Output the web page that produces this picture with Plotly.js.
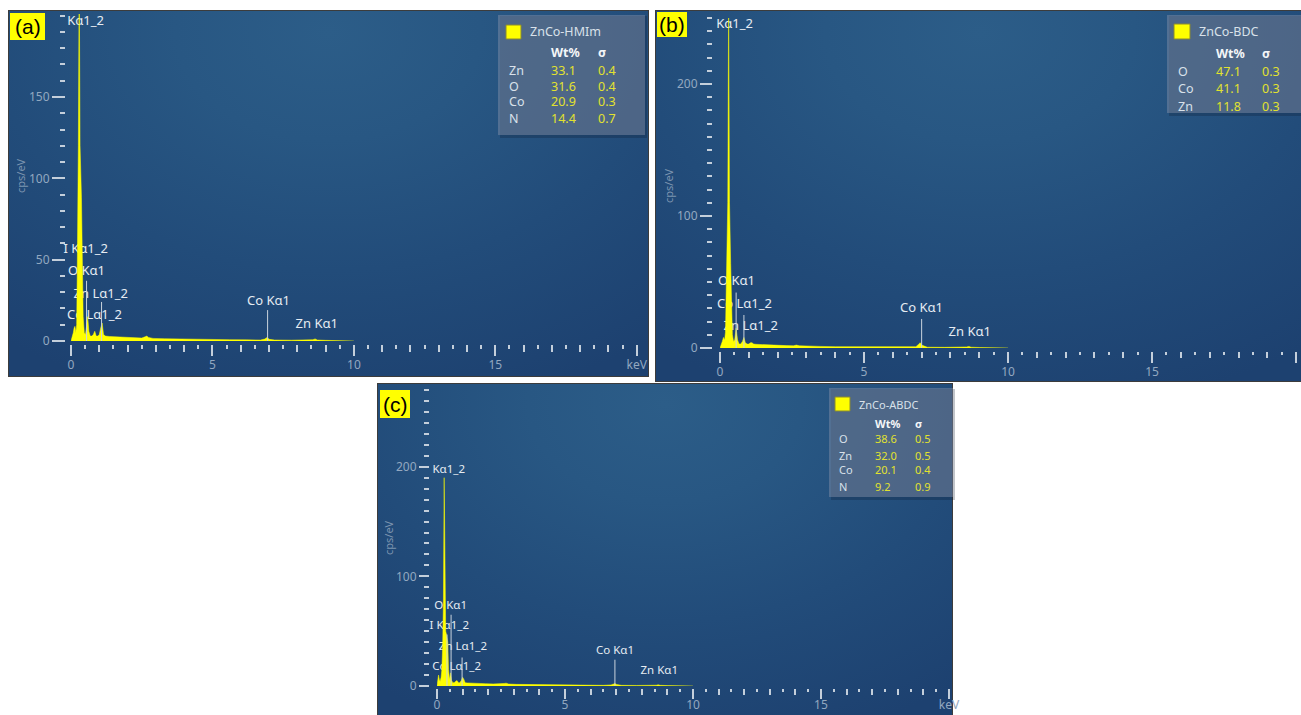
<!DOCTYPE html>
<html>
<head>
<meta charset="utf-8">
<script src="https://cdn.plot.ly/plotly-3.0.1.min.js"></script>
<style>
html,body{margin:0;padding:0;background:#ffffff;width:1301px;height:715px;overflow:hidden;}
.panel{position:absolute;box-sizing:border-box;border:1px solid #3c3c3c;
  background:radial-gradient(ellipse 85% 105% at 50% 6%, #2c5d88 0%, #285783 28%, #224c7a 62%, #1d4170 100%);}
#chart{position:absolute;left:0;top:0;width:1301px;height:715px;}
</style>
</head>
<body>
<div class="panel" style="left:8px;top:10px;width:641px;height:367px;"></div>
<div class="panel" style="left:655px;top:10px;width:650px;height:372px;"></div>
<div class="panel" style="left:377px;top:383px;width:576px;height:336px;"></div>
<div id="chart"></div>
<script>
// ---------------- DATA ----------------
// (a) ZnCo-HMIm spectrum: energy (keV) and intensity (cps/eV)
const energyA = [0, 0.04, 0.08, 0.11, 0.14, 0.17, 0.20, 0.22, 0.23, 0.26, 0.29, 0.32, 0.37, 0.40, 0.43, 0.47, 0.51, 0.55, 0.59, 0.63, 0.68, 0.74, 0.79, 0.84, 0.89, 0.95, 1.00, 1.05, 1.10, 1.15, 1.22, 1.35, 1.6, 1.9, 2.2, 2.5, 2.62, 2.68, 2.74, 2.9, 3.3, 3.8, 4.4, 5.0, 5.6, 6.2, 6.7, 6.85, 6.93, 7.01, 7.2, 7.8, 8.4, 8.55, 8.63, 8.71, 9.0, 9.5, 10.0];
const countsA = [0, 2, 5, 8, 9, 5, 10, 40, 85, 120, 230, 120, 88, 50, 15, 5, 4, 9, 15, 6, 3, 3, 4, 6, 3, 3, 4, 8, 11, 4, 3, 2.8, 2.6, 2.3, 2.0, 1.8, 2.6, 3.0, 2.2, 1.6, 1.4, 1.2, 1.0, 0.9, 0.8, 0.7, 0.6, 1.2, 2.2, 1.0, 0.6, 0.5, 0.4, 0.8, 1.3, 0.6, 0.4, 0.3, 0];
// (b) ZnCo-BDC spectrum
const energyB = [0, 0.04, 0.08, 0.12, 0.16, 0.19, 0.22, 0.24, 0.27, 0.30, 0.33, 0.37, 0.40, 0.43, 0.47, 0.51, 0.56, 0.61, 0.66, 0.72, 0.78, 0.83, 0.88, 0.94, 1.00, 1.06, 1.11, 1.17, 1.25, 1.4, 1.7, 2.0, 2.3, 2.55, 2.65, 2.75, 3.0, 3.5, 4.0, 4.6, 5.2, 5.8, 6.4, 6.8, 6.88, 6.95, 7.02, 7.2, 7.8, 8.4, 8.56, 8.64, 8.72, 9.0, 9.5, 10.0];
const countsB = [0, 2, 5, 8, 6, 12, 45, 64, 110, 260, 110, 64, 30, 10, 5, 6, 15, 6, 3, 3, 5, 8, 4, 3, 3, 4, 4, 3, 2.8, 2.6, 2.3, 2.0, 1.8, 1.7, 2.2, 1.7, 1.4, 1.2, 1.0, 0.9, 0.8, 0.7, 0.6, 1.0, 2.5, 4.0, 2.0, 0.6, 0.5, 0.4, 0.8, 1.2, 0.6, 0.4, 0.3, 0];
// (c) ZnCo-ABDC spectrum
const energyC = [0, 0.03, 0.06, 0.09, 0.12, 0.16, 0.19, 0.22, 0.25, 0.28, 0.31, 0.34, 0.38, 0.42, 0.45, 0.49, 0.53, 0.57, 0.62, 0.67, 0.72, 0.78, 0.84, 0.89, 0.95, 1.00, 1.05, 1.10, 1.18, 1.3, 1.6, 1.9, 2.2, 2.5, 2.62, 2.7, 2.8, 3.1, 3.6, 4.2, 4.8, 5.4, 6.0, 6.5, 6.8, 6.88, 6.95, 7.02, 7.2, 7.8, 8.4, 8.56, 8.64, 8.72, 9.0, 9.5, 10.0];
const countsC = [0, 4, 10, 6, 4, 8, 15, 35, 75, 190, 75, 50, 46, 40, 15, 6, 12, 5, 3, 3, 4, 5, 3, 3, 5, 8, 6, 3, 2.8, 2.6, 2.3, 2.1, 1.9, 1.7, 2.3, 2.6, 1.8, 1.5, 1.3, 1.1, 0.9, 0.8, 0.7, 0.6, 1.0, 1.6, 2.2, 1.4, 0.6, 0.5, 0.4, 0.7, 1.1, 0.6, 0.4, 0.3, 0];

// tick labels
const xTickVals = [0, 5, 10, 15, 20];
const xTickText = ['0', '5', '10', '15', 'keV'];
const yTickValsA = [0, 50, 100, 150];
const yTickValsB = [0, 100, 200];
const yTickValsC = [0, 100, 200];

// element line markers (keV, marker top in cps/eV)
const markerKeVA = [0.55, 1.08, 6.95];
const markerTopA = [37, 24, 19];
const markerKeVB = [0.56, 0.83, 7.0];
const markerTopB = [42, 25, 22];
const markerKeVC = [0.39, 0.55, 0.98, 6.95];
const markerTopC = [47, 65, 26, 24];

// peak label texts
const lineLabelsA = ['Kα1_2', 'I Kα1_2', 'O Kα1', 'Zn Lα1_2', 'Co Lα1_2', 'Co Kα1', 'Zn Kα1'];
const lineLabelsB = ['Kα1_2', 'O Kα1', 'Co Lα1_2', 'Zn Lα1_2', 'Co Kα1', 'Zn Kα1'];
const lineLabelsC = ['Kα1_2', 'O Kα1', 'I Kα1_2', 'Zn Lα1_2', 'Co Lα1_2', 'Co Kα1', 'Zn Kα1'];

// quantification tables
const sampleA = 'ZnCo-HMIm';
const elementsA = ['Zn', 'O', 'Co', 'N'];
const wtA = [33.1, 31.6, 20.9, 14.4];
const sigmaA = [0.4, 0.4, 0.3, 0.7];
const sampleB = 'ZnCo-BDC';
const elementsB = ['O', 'Co', 'Zn'];
const wtB = [47.1, 41.1, 11.8];
const sigmaB = [0.3, 0.3, 0.3];
const sampleC = 'ZnCo-ABDC';
const elementsC = ['O', 'Zn', 'Co', 'N'];
const wtC = [38.6, 32.0, 20.1, 9.2];
const sigmaC = [0.5, 0.5, 0.4, 0.9];

const panelLetters = ['(a)', '(b)', '(c)'];

// ---------------- LAYOUT GEOMETRY (pixels) ----------------
const W = 1301, H = 715;
const fx = px => px / W;
const fy = py => 1 - py / H;
const FONT = '"Noto Sans", "Open Sans", sans-serif';
const TICK = '#c4cfdb';
const TLAB = '#93a8c0';
const LABC = '#e6ecf2';

// labelPos: [right edge px, centre y px]
const geo = [
  { x0: 71, x1: 641, xr: [0, 20.15], yTop: 14, yBot: 341, yr: [0, 201], yAxPx: 65, xAxPy: 344,
    yMaj: 13, yMin: 5, xMaj: 11, x1k: 7, xMin: 4, lfs: 13, stand: 3,
    labelPos: [[104, 22], [108, 250], [105, 272], [128, 295], [122, 316], [290, 302], [338, 325]],
    title: [20, 176], letter: [10, 13, 45, 40],
    leg: { box: [498, 15, 645, 135], sq: [506, 25, 521, 39], tx: 528, ty: 32, hy: 52, ex: 507, wx: 549, sx: 596, rows: [70, 86, 102, 118], fs: 12.5 } },
  { x0: 720, x1: 1299, xr: [0, 20.1], yTop: 18, yBot: 348, yr: [0, 250], yAxPx: 712, xAxPy: 351,
    yMaj: 12, yMin: 5, xMaj: 11, x1k: 6, xMin: 3, lfs: 13, stand: 4,
    labelPos: [[753, 25], [755, 282], [772, 305], [778, 327], [943, 309], [991, 333]],
    title: [668, 186], letter: [657, 12, 687, 37],
    leg: { box: [1167, 15, 1305, 113], sq: [1174, 24, 1190, 39], tx: 1197, ty: 32, hy: 53, ex: 1176, wx: 1214, sx: 1260, rows: [71, 88, 106], fs: 12.5 } },
  { x0: 437, x1: 950, xr: [0, 20.04], yTop: 390, yBot: 686, yr: [0, 270], yAxPx: 429, xAxPy: 688,
    yMaj: 10, yMin: 5, xMaj: 10, x1k: 6, xMin: 3, lfs: 11.5, stand: 0,
    labelPos: [[465, 470], [467, 606], [469, 626], [487, 647], [481, 667], [634, 651], [678, 671]],
    title: [388, 538], letter: [380, 390, 410, 418],
    leg: { box: [829, 388, 953, 497], sq: [835, 397, 850, 411], tx: 857, ty: 404, hy: 423, ex: 837, wx: 873, sx: 913, rows: [439, 455, 470, 486], fs: 11 } }
];

const spectra = [[energyA, countsA], [energyB, countsB], [energyC, countsC]];
const yTicks = [yTickValsA, yTickValsB, yTickValsC];
const markers = [[markerKeVA, markerTopA], [markerKeVB, markerTopB], [markerKeVC, markerTopC]];
const lineLabels = [lineLabelsA, lineLabelsB, lineLabelsC];
const tables = [[sampleA, elementsA, wtA, sigmaA], [sampleB, elementsB, wtB, sigmaB], [sampleC, elementsC, wtC, sigmaC]];

// 1-keV tick positions with labels only on the 5-keV ticks
const keVTicks = [], keVText = [];
for (let k = 0; k <= 20; k++) {
  keVTicks.push(k);
  const j = xTickVals.indexOf(k);
  keVText.push(j >= 0 ? xTickText[j] : '');
}

const traces = [];
const layout = {
  width: W, height: H,
  margin: { l: 0, r: 0, t: 0, b: 0 },
  paper_bgcolor: 'rgba(0,0,0,0)', plot_bgcolor: 'rgba(0,0,0,0)',
  showlegend: false,
  font: { family: FONT },
  shapes: [], annotations: []
};

geo.forEach((g, i) => {
  const n = i + 1;
  const xs = n === 1 ? '' : String(n);
  const xo = String(n + 3);
  const xName = 'x' + xs, yName = 'y' + xs, xoName = 'x' + xo;
  const baseX = {
    range: g.xr, showgrid: false, zeroline: false, showline: false,
    anchor: 'free', position: fy(g.xAxPy),
    ticks: 'outside', tickwidth: 2, tickcolor: TICK
  };
  layout['xaxis' + xs] = Object.assign({}, baseX, {
    domain: [fx(g.x0), fx(g.x1)],
    tickmode: 'array', tickvals: keVTicks, ticktext: keVText, ticklen: g.x1k,
    ticklabelstandoff: g.stand,
    tickfont: { family: FONT, size: 12, color: TLAB },
    minor: { tickmode: 'linear', tick0: 0, dtick: 0.5, ticks: 'outside', ticklen: g.xMin, tickwidth: 2, tickcolor: TICK, showgrid: false }
  });
  layout['xaxis' + xo] = Object.assign({}, baseX, {
    overlaying: xName, tickmode: 'array', tickvals: xTickVals, ticklen: g.xMaj, showticklabels: false
  });
  layout['yaxis' + xs] = {
    domain: [fy(g.yBot), fy(g.yTop)], range: g.yr,
    showgrid: false, zeroline: false, showline: false,
    anchor: 'free', position: fx(g.yAxPx),
    tickmode: 'array', tickvals: yTicks[i], ticks: 'outside', ticklen: g.yMaj, tickwidth: 2, tickcolor: TICK,
    tickfont: { family: FONT, size: 12, color: TLAB },
    minor: { tickmode: 'linear', tick0: 0, dtick: 10, ticks: 'outside', ticklen: g.yMin, tickwidth: 2, tickcolor: TICK, showgrid: false }
  };

  // pixel -> data helpers for this panel
  const toX = px => g.xr[0] + (px - g.x0) / (g.x1 - g.x0) * (g.xr[1] - g.xr[0]);
  const toY = py => g.yr[0] + (g.yBot - py) / (g.yBot - g.yTop) * (g.yr[1] - g.yr[0]);

  // peak labels (drawn beneath the spectrum so the peaks overlap them)
  traces.push({
    type: 'scatter', mode: 'text', xaxis: xName, yaxis: yName,
    x: g.labelPos.map(p => toX(p[0])), y: g.labelPos.map(p => toY(p[1])),
    text: lineLabels[i], textposition: 'middle left',
    textfont: { family: FONT, size: g.lfs, color: LABC },
    cliponaxis: false, hoverinfo: 'skip'
  });
  // spectrum
  traces.push({
    type: 'scatter', mode: 'lines', xaxis: xName, yaxis: yName,
    x: spectra[i][0], y: spectra[i][1],
    line: { color: '#ffff00', width: 0.5 }, fill: 'tozeroy', fillcolor: '#ffff00',
    hoverinfo: 'x+y'
  });
  // dummy trace to register the 5-keV tick overlay axis
  traces.push({ type: 'scatter', mode: 'lines', xaxis: xoName, yaxis: yName, x: [], y: [], hoverinfo: 'skip' });

  // element marker lines
  markers[i][0].forEach((e, k) => {
    layout.shapes.push({ type: 'line', xref: xName, yref: yName, x0: e, x1: e, y0: 0, y1: markers[i][1][k],
      line: { color: '#c9d3dd', width: 1 } });
  });

  // y axis title
  layout.annotations.push({ xref: 'paper', yref: 'paper', x: fx(g.title[0]), y: fy(g.title[1]),
    xanchor: 'center', yanchor: 'middle', text: 'cps/eV', textangle: -90, showarrow: false,
    font: { family: FONT, size: 11, color: '#7d95b0' } });

  // panel letter
  const L = g.letter;
  layout.shapes.push({ type: 'rect', xref: 'paper', yref: 'paper', x0: fx(L[0]), x1: fx(L[2]), y0: fy(L[3]), y1: fy(L[1]),
    fillcolor: '#ffff00', line: { width: 0 } });
  layout.annotations.push({ xref: 'paper', yref: 'paper', x: fx((L[0] + L[2]) / 2), y: fy((L[1] + L[3]) / 2),
    xanchor: 'center', yanchor: 'middle', text: panelLetters[i], showarrow: false,
    font: { family: '"Liberation Sans", Arial, sans-serif', size: 21, color: '#000000' } });

  // quantification box
  const lg = g.leg, b = lg.box;
  layout.shapes.push({ type: 'rect', xref: 'paper', yref: 'paper', x0: fx(b[0] + 2), x1: fx(b[2] + 2), y0: fy(b[3] + 3), y1: fy(b[1] + 1),
    fillcolor: 'rgba(10,25,45,0.25)', line: { width: 0 } });
  layout.shapes.push({ type: 'rect', xref: 'paper', yref: 'paper', x0: fx(b[0]), x1: fx(b[2]), y0: fy(b[3]), y1: fy(b[1]),
    fillcolor: 'rgba(125,140,165,0.5)', line: { width: 0 } });
  layout.shapes.push({ type: 'rect', xref: 'paper', yref: 'paper', x0: fx(lg.sq[0]), x1: fx(lg.sq[2]), y0: fy(lg.sq[3]), y1: fy(lg.sq[1]),
    fillcolor: '#ffff00', line: { color: '#8a8a30', width: 1 } });
  const t = tables[i];
  const ann = (px, py, text, color, bold) => layout.annotations.push({
    xref: 'paper', yref: 'paper', x: fx(px), y: fy(py), xanchor: 'left', yanchor: 'middle',
    text: bold ? '<b>' + text + '</b>' : text, showarrow: false,
    font: { family: FONT, size: lg.fs, color: color } });
  ann(lg.tx, lg.ty, t[0], '#d9e1ea', false);
  ann(lg.wx, lg.hy, 'Wt%', '#f4f6f8', true);
  ann(lg.sx, lg.hy, 'σ', '#f4f6f8', true);
  t[1].forEach((el, k) => {
    ann(lg.ex, lg.rows[k], el, '#d9e1ea', false);
    ann(lg.wx, lg.rows[k], t[2][k].toFixed(1), '#e2e22e', false);
    ann(lg.sx, lg.rows[k], t[3][k].toFixed(1), '#e2e22e', false);
  });
});

Plotly.newPlot('chart', traces, layout, { staticPlot: true, displayModeBar: false });
</script>
</body>
</html>
